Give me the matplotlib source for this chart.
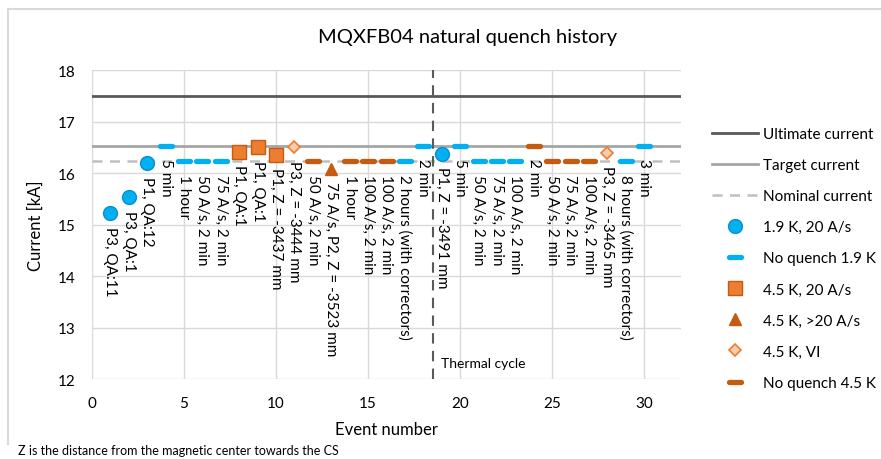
import matplotlib
matplotlib.use("Agg")
import matplotlib.pyplot as plt
from matplotlib.markers import MarkerStyle
from matplotlib.lines import Line2D

plt.rcParams['font.family'] = ['Lato', 'DejaVu Sans']

# ---------------- data ----------------
ultimate_current = 17.5
target_current = 16.53
nominal_current = 16.23
thermal_cycle_x = 18.5

q19_x = [1, 2, 3, 19]
q19_y = [15.22, 15.53, 16.19, 16.37]

nq19_x = [4, 5, 6, 7, 17, 18, 20, 21, 22, 23, 29, 30]
nq19_y = [16.53, 16.23, 16.23, 16.23, 16.23, 16.53, 16.53, 16.23, 16.23, 16.23, 16.23, 16.53]

q45_x = [8, 9, 10]
q45_y = [16.41, 16.50, 16.35]

q45fast_x = [13]
q45fast_y = [16.08]

q45vi_x = [11, 28]
q45vi_y = [16.50, 16.39]

nq45_x = [12, 14, 15, 16, 24, 25, 26, 27]
nq45_y = [16.23, 16.23, 16.23, 16.23, 16.53, 16.23, 16.23, 16.23]

event_labels = [
    "P3, QA:11", "P3, QA:1", "P1, QA:12", "5 min", "1 hour",
    "50 A/s, 2 min", "75 A/s, 2 min", "P1, QA:1", "P1, QA:1", "P1, Z = -3437 mm",
    "P3, Z = -3444 mm", "50 A/s, 2 min", "75 A/s, P2, Z = -3523 mm", "1 hour", "100 A/s, 2 min",
    "100 A/s, 2 min", "2 hours (with correctors)", "2 min", "P1, Z = -3491 mm", "5 min",
    "50 A/s, 2 min", "75 A/s, 2 min", "100 A/s, 2 min", "2 min", "50 A/s, 2 min",
    "75 A/s, 2 min", "100 A/s, 2 min", "P3, Z = -3465 mm", "8 hours (with correctors)", "3 min",
]

# ---------------- figure ----------------
W, H = 881, 460
fig = plt.figure(figsize=(W / 100, H / 100), dpi=100)
ax = fig.add_axes([92 / W, 1 - 380 / H, (681 - 92) / W, (380 - 71) / H])

ax.set_xlim(0, 32)
ax.set_ylim(12, 18)
ax.set_xticks(range(0, 31, 5))
ax.set_yticks(range(12, 19, 1))
ax.grid(True, color='#D9D9D9', linewidth=1.0)
ax.set_axisbelow(True)
for s in ax.spines.values():
    s.set_visible(False)
ax.tick_params(length=0, labelsize=11, pad=12, colors='#000000')

ax.axhline(ultimate_current, color='#595959', lw=2.0, label='Ultimate current')
ax.axhline(target_current, color='#A6A6A6', lw=2.0, label='Target current')
ax.axhline(nominal_current, color='#BFBFBF', lw=1.8, ls=(0, (4, 3)), label='Nominal current')
ax.axvline(thermal_cycle_x, color='#595959', lw=1.5, ls=(0, (5, 3.5)))

dash = MarkerStyle('_', capstyle='round')

ax.plot(q19_x, q19_y, ls='none', marker='o', ms=10, mfc='#00B0F0', mec='#0A8FD0',
        mew=1.0, label='1.9 K, 20 A/s', zorder=4)
ax.plot(nq19_x, nq19_y, ls='none', marker=dash, ms=8, mec='#00B0F0', mew=3.8,
        label='No quench 1.9 K', zorder=4)
ax.plot(q45_x, q45_y, ls='none', marker='s', ms=9.5, mfc='#ED7D31', mec='#C55A11',
        mew=1.0, label='4.5 K, 20 A/s', zorder=4)
ax.plot(q45fast_x, q45fast_y, ls='none', marker='^', ms=9, mfc='#C55A11', mec='#C55A11',
        mew=1.0, label='4.5 K, >20 A/s', zorder=4)
ax.plot(q45vi_x, q45vi_y, ls='none', marker='D', ms=6.5, mfc='#F8CBAD', mec='#ED7D31',
        mew=1.2, label='4.5 K, VI', zorder=4)
ax.plot(nq45_x, nq45_y, ls='none', marker=dash, ms=8, mec='#C55A11', mew=3.8,
        label='No quench 4.5 K', zorder=4)

# data labels
points = {}
for xs, ys in [(q19_x, q19_y), (nq19_x, nq19_y), (q45_x, q45_y), (q45fast_x, q45fast_y),
               (q45vi_x, q45vi_y), (nq45_x, nq45_y)]:
    for x, y in zip(xs, ys):
        points[x] = y
for i, lab in enumerate(event_labels):
    ev = i + 1
    ax.annotate(lab, (ev, points[ev]), xytext=(0, -9), textcoords='offset points',
                rotation=270, ha='center', va='top', fontsize=11, color='#000000',
                zorder=5)

ax.annotate('Thermal cycle', (thermal_cycle_x, 12), xytext=(6, 7), textcoords='offset points',
            ha='left', va='bottom', fontsize=10, color='#000000')

ax.set_ylabel('Current [kA]', fontsize=12, labelpad=10)
ax.set_xlabel('Event number', fontsize=12, labelpad=8)

fig.text(468 / W, 1 - 38 / H, 'MQXFB04 natural quench history', fontsize=14.5,
         ha='center', va='center')
fig.text(18 / W, 1 - 451 / H, 'Z is the distance from the magnetic center towards the CS',
         fontsize=9, ha='left', va='center')

leg = fig.legend(loc='upper left', bbox_to_anchor=(712 / W, 1 - 128 / H), frameon=False,
                 fontsize=11, handlelength=3.0, handletextpad=0.35, labelspacing=1.12,
                 borderpad=0, borderaxespad=0)

# chart-area border (left and top)
fig.add_artist(Line2D([8 / W, 8 / W], [1 - 445 / H, 1 - 10 / H], color='#D9D9D9', lw=1.5,
                      transform=fig.transFigure))
fig.add_artist(Line2D([8 / W, 1.0], [1 - 10 / H, 1 - 10 / H], color='#D9D9D9', lw=1.5,
                      transform=fig.transFigure))

fig.savefig('out.png', dpi=100)
